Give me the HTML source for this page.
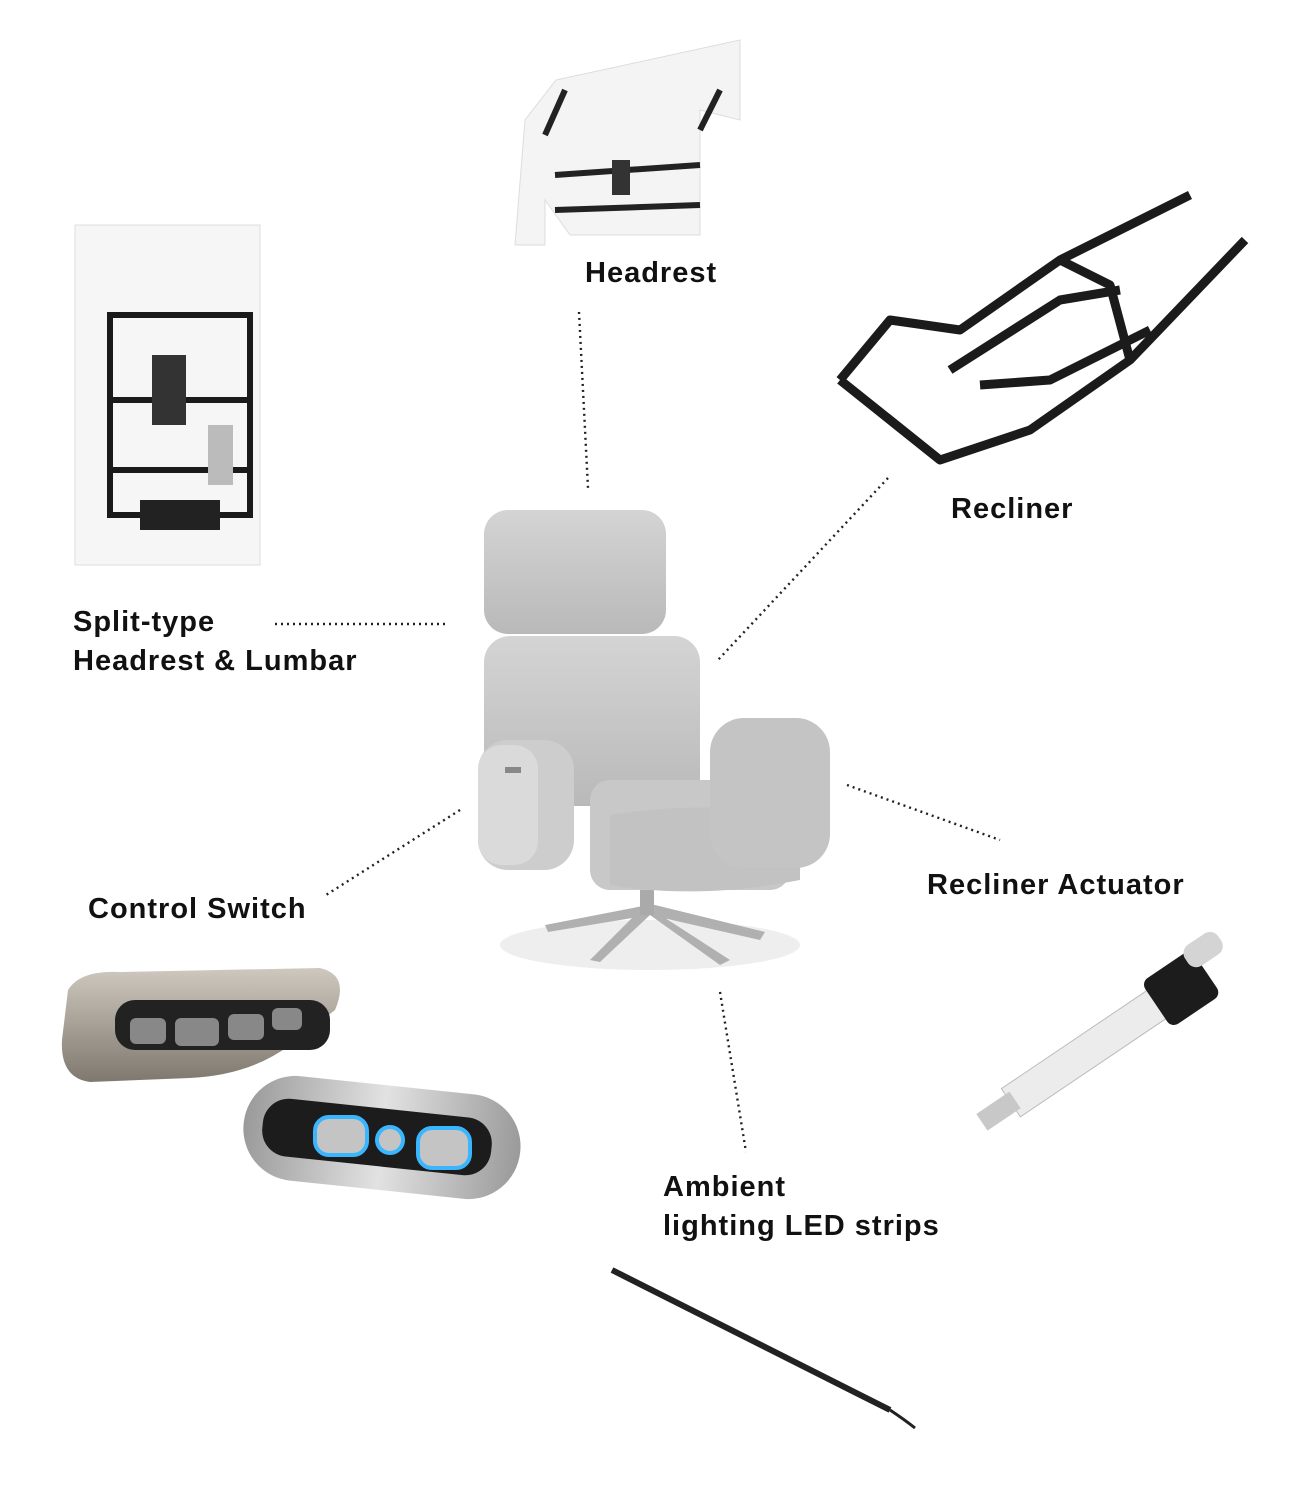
<!DOCTYPE html>
<html><head><meta charset="utf-8"><style>
html,body{margin:0;padding:0;background:#fff;}
body{width:1308px;height:1500px;position:relative;overflow:hidden;font-family:"Liberation Sans",sans-serif;}
.l{position:absolute;font-weight:bold;font-size:29px;letter-spacing:1px;color:#111;line-height:39px;white-space:nowrap;}
svg{position:absolute;left:0;top:0;}
</style></head><body>
<svg width="1308" height="1500" viewBox="0 0 1308 1500">
<defs>
<linearGradient id="fab" x1="0" y1="0" x2="0" y2="1"><stop offset="0" stop-color="#d4d4d4"/><stop offset="1" stop-color="#b9b9b9"/></linearGradient>
<linearGradient id="met" x1="0" y1="0" x2="0" y2="1"><stop offset="0" stop-color="#cfc8bf"/><stop offset="1" stop-color="#7f786f"/></linearGradient>
<linearGradient id="met2" x1="0" y1="0" x2="1" y2="0"><stop offset="0" stop-color="#9a9a9a"/><stop offset=".5" stop-color="#e2e2e2"/><stop offset="1" stop-color="#9a9a9a"/></linearGradient>
</defs>
<g stroke="#222" stroke-width="2.4" stroke-dasharray="2 4" fill="none">
<line x1="579" y1="312" x2="588" y2="488"/>
<line x1="888" y1="478" x2="718" y2="660"/>
<line x1="275" y1="624" x2="446" y2="624"/>
<line x1="460" y1="810" x2="326" y2="895"/>
<line x1="847" y1="785" x2="1000" y2="840"/>
<line x1="720" y1="992" x2="746" y2="1152"/>
</g>
<!-- chair -->
<ellipse cx="650" cy="945" rx="150" ry="25" fill="#eee"/>
<g fill="#b0b0b0"><path d="M648 905 L545 925 L548 932 L650 915 L760 940 L765 932 L655 905Z"/><path d="M645 905 L590 960 L600 962 L650 915 L720 965 L730 960Z"/></g>
<rect x="640" y="880" width="14" height="35" fill="#aaa"/>
<rect x="484" y="510" width="182" height="124" rx="24" fill="url(#fab)"/>
<rect x="484" y="636" width="216" height="170" rx="26" fill="url(#fab)"/>
<rect x="590" y="780" width="200" height="110" rx="20" fill="#c8c8c8"/>
<path d="M610 815 Q700 800 800 815 L800 880 Q700 900 610 885Z" fill="#c2c2c2"/>
<rect x="478" y="740" width="96" height="130" rx="30" fill="#cdcdcd"/>
<rect x="478" y="745" width="60" height="120" rx="24" fill="#dadada"/>
<rect x="710" y="718" width="120" height="150" rx="34" fill="#c4c4c4"/>
<rect x="505" y="767" width="16" height="6" fill="#888"/>
<!-- headrest part -->
<path d="M556 80 L740 40 L740 120 L700 110 L700 235 L570 235 L545 200 L545 245 L515 245 L525 120Z" fill="#f4f4f4" stroke="#ddd"/>
<g stroke="#222" stroke-width="6" fill="none"><path d="M545 135 L565 90"/><path d="M700 130 L720 90"/><path d="M555 175 L700 165"/><path d="M555 210 L700 205"/></g>
<rect x="612" y="160" width="18" height="35" fill="#333"/>
<!-- split-type -->
<rect x="75" y="225" width="185" height="340" fill="#f6f6f6" stroke="#ddd"/>
<g stroke="#1a1a1a" stroke-width="6" fill="none"><rect x="110" y="315" width="140" height="200"/><line x1="110" y1="400" x2="250" y2="400"/><line x1="110" y1="470" x2="250" y2="470"/></g>
<rect x="152" y="355" width="34" height="70" fill="#333"/><rect x="208" y="425" width="25" height="60" fill="#bbb"/><rect x="140" y="500" width="80" height="30" fill="#222"/>
<!-- recliner frame -->
<g stroke="#1b1b1b" stroke-width="9" fill="none" stroke-linejoin="round">
<path d="M840 380 L940 460 L1030 430 L1130 360 L1245 240"/>
<path d="M840 380 L890 320 L960 330 L1060 260 L1190 195"/>
<path d="M950 370 L1060 300 L1120 290"/>
<path d="M980 385 L1050 380 L1150 330"/>
<path d="M1060 260 L1110 285 L1130 360"/>
</g>
<!-- control switch 1 -->
<path d="M68 990 Q80 970 120 972 L320 968 Q350 975 335 1010 L290 1045 Q250 1075 190 1078 L90 1082 Q60 1078 62 1040Z" fill="url(#met)"/>
<rect x="115" y="1000" width="215" height="50" rx="20" fill="#222"/>
<g fill="#888"><rect x="130" y="1018" width="36" height="26" rx="6"/><rect x="175" y="1018" width="44" height="28" rx="6"/><rect x="228" y="1014" width="36" height="26" rx="6"/><rect x="272" y="1008" width="30" height="22" rx="6"/></g>
<!-- control switch 2 -->
<rect x="243" y="1085" width="278" height="105" rx="52" transform="rotate(6 382 1137)" fill="url(#met2)"/>
<rect x="262" y="1108" width="230" height="58" rx="26" transform="rotate(6 377 1137)" fill="#1c1c1c"/>
<g fill="#c4c4c4" stroke="#3ab6ff" stroke-width="4"><rect x="315" y="1117" width="52" height="38" rx="14"/><circle cx="390" cy="1140" r="13"/><rect x="418" y="1128" width="52" height="40" rx="14"/></g>
<!-- actuator -->
<g transform="rotate(-34 1130 1020)">
<rect x="985" y="1005" width="180" height="34" fill="#ececec" stroke="#bbb"/>
<rect x="950" y="1012" width="40" height="20" fill="#c8c8c8"/>
<rect x="1160" y="995" width="60" height="55" rx="8" fill="#1c1c1c"/>
<rect x="1210" y="990" width="40" height="25" rx="10" fill="#d4d4d4"/>
</g>
<!-- LED strip -->
<line x1="612" y1="1270" x2="890" y2="1410" stroke="#222" stroke-width="6"/>
<path d="M890 1410 Q905 1420 915 1428" stroke="#222" stroke-width="3" fill="none"/>
</svg>
<div class="l" style="left:585px;top:254px;">Headrest</div>
<div class="l" style="left:951px;top:490px;">Recliner</div>
<div class="l" style="left:73px;top:603px;">Split-type<br>Headrest &amp; Lumbar</div>
<div class="l" style="left:88px;top:890px;">Control Switch</div>
<div class="l" style="left:927px;top:866px;">Recliner Actuator</div>
<div class="l" style="left:663px;top:1168px;">Ambient<br>lighting LED strips</div>
</body></html>
